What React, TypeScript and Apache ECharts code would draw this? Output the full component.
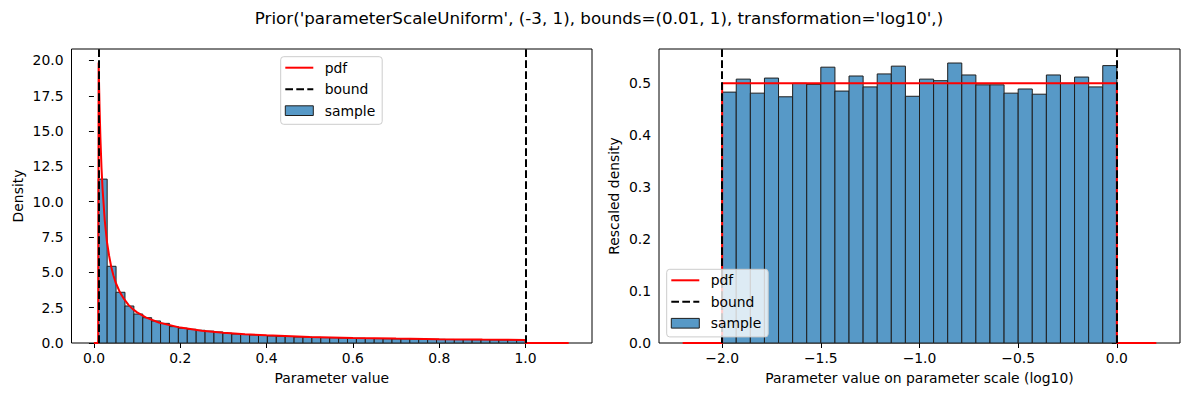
import React, { useEffect, useRef } from "react";
import * as echarts from "echarts";

const TITLE = "Prior('parameterScaleUniform', (-3, 1), bounds=(0.01, 1), transformation='log10',)";

// Left panel: linear parameter value
const linBounds = [0.01, 1];
const linDensity = [
  11.6, 5.43, 3.59, 2.62, 2.05, 1.79, 1.56, 1.39, 1.16, 1.05, 0.97, 0.9, 0.84, 0.78, 0.7, 0.64,
  0.6, 0.57, 0.53, 0.5, 0.47, 0.46, 0.43, 0.42, 0.4, 0.38, 0.37, 0.35, 0.34, 0.34, 0.32, 0.31,
  0.3, 0.29, 0.29, 0.28, 0.27, 0.26, 0.26, 0.25, 0.24, 0.24, 0.23, 0.23, 0.22, 0.22, 0.22, 0.21,
];
const linPdfX = [
  0, 0.0099, 0.0109, 0.012, 0.013, 0.015, 0.0175, 0.02, 0.025, 0.03, 0.035, 0.04, 0.045, 0.05,
  0.06, 0.07, 0.08, 0.09, 0.1, 0.12, 0.15, 0.2, 0.25, 0.3, 0.35, 0.4, 0.5, 0.6, 0.7, 0.8, 0.9, 1.0,
  1.0, 1.1,
];
const linPdfY = [
  0, 0, 19.86, 18.1, 16.7, 14.5, 12.4, 10.9, 8.7, 7.2, 6.2, 5.4, 4.8, 4.3, 3.6, 3.1, 2.7, 2.4,
  2.17, 1.81, 1.45, 1.09, 0.87, 0.72, 0.62, 0.54, 0.43, 0.36, 0.31, 0.27, 0.24, 0.22, 0, 0,
];
const linXTicks = [0, 0.2, 0.4, 0.6, 0.8, 1.0];
const linYTicks = [0, 2.5, 5, 7.5, 10, 12.5, 15, 17.5, 20];

// Right panel: log10 parameter scale
const logBounds = [-2, 0];
const logDensity = [
  0.483, 0.508, 0.481, 0.51, 0.474, 0.5, 0.498, 0.531, 0.485, 0.514, 0.493, 0.518, 0.533, 0.475,
  0.508, 0.505, 0.539, 0.516, 0.497, 0.497, 0.481, 0.489, 0.479, 0.516, 0.5, 0.512, 0.493, 0.534,
];
const logPdfX = [-2.2, -2.0, -2.0, 0.0, 0.0, 0.2];
const logPdfY = [0, 0, 0.5, 0.5, 0, 0];
const logXTicks = [-2, -1.5, -1, -0.5, 0];
const logYTicks = [0, 0.1, 0.2, 0.3, 0.4, 0.5];

const FONT = "DejaVu Sans";
const FS = 13.9;
const BAR_FILL = "#5799c7";
const BAR_EDGE = "#1e1e1e";
const DASH = [7.7, 3.3];
const TOP_Z = 100;

function histData(bounds: number[], dens: number[]) {
  const w = (bounds[1] - bounds[0]) / dens.length;
  return dens.map((h, i) => [bounds[0] + i * w, bounds[0] + (i + 1) * w, h]);
}

function renderBar(params: any, api: any) {
  const p0 = api.coord([api.value(0), api.value(2)]);
  const p1 = api.coord([api.value(1), 0]);
  return {
    type: "rect",
    shape: { x: p0[0], y: p0[1], width: p1[0] - p0[0], height: p1[1] - p0[1] },
    style: { fill: BAR_FILL, stroke: BAR_EDGE, lineWidth: 1 },
  };
}

const fmt1 = (v: number) => (v < -1e-9 ? "\u2212" : "") + Math.abs(v).toFixed(1);

function xAxis(gridIndex: number, min: number, max: number, ticks: number[], name: string) {
  return {
    type: "value",
    gridIndex,
    min,
    max,
    name,
    nameLocation: "middle",
    nameGap: 28,
    nameTextStyle: { fontFamily: FONT, fontSize: FS, color: "#000" },
    axisLine: { show: false },
    axisTick: { show: true, length: 5, inside: false, lineStyle: { color: "#000", width: 1 }, customValues: ticks },
    axisLabel: { show: true, margin: 8, fontFamily: FONT, fontSize: FS, color: "#000", formatter: fmt1, customValues: ticks },
    splitLine: { show: false },
  };
}

function yAxis(gridIndex: number, min: number, max: number, ticks: number[], name: string, gap: number) {
  return {
    type: "value",
    gridIndex,
    min,
    max,
    name,
    nameLocation: "middle",
    nameGap: gap,
    nameTextStyle: { fontFamily: FONT, fontSize: FS, color: "#000" },
    axisLine: { show: false },
    axisTick: { show: true, length: 5, inside: false, lineStyle: { color: "#000", width: 1 }, customValues: ticks },
    axisLabel: { show: true, margin: 8, fontFamily: FONT, fontSize: FS, color: "#000", formatter: fmt1, customValues: ticks },
    splitLine: { show: false },
  };
}

function legend(x: number, y: number) {
  // x, y: top-left of legend box
  const hx = x + 4.6;
  const tx = x + 44;
  const r1 = y + 11;
  const r2 = y + 32.5;
  const r3 = y + 54;
  const txt = (t: string, yy: number) => ({
    type: "text",
    z: TOP_Z + 1,
    x: tx,
    y: yy,
    style: { text: t, fontFamily: FONT, fontSize: FS, fill: "#000", align: "left", verticalAlign: "middle" },
  });
  return {
    type: "group",
    z: TOP_Z,
    children: [
      {
        type: "rect",
        z: TOP_Z,
        shape: { x, y, width: 101.5, height: 67.6, r: 3 },
        style: { fill: "rgba(255,255,255,0.8)", stroke: "#cccccc", lineWidth: 1 },
      },
      { type: "line", z: TOP_Z + 1, shape: { x1: hx, y1: r1, x2: hx + 28, y2: r1 }, style: { stroke: "#ff0000", lineWidth: 2 } },
      { type: "line", z: TOP_Z + 1, shape: { x1: hx, y1: r2, x2: hx + 28, y2: r2 }, style: { stroke: "#000", lineWidth: 2, lineDash: DASH } },
      { type: "rect", z: TOP_Z + 1, shape: { x: hx, y: r3 - 4.9, width: 28, height: 9.7 }, style: { fill: BAR_FILL, stroke: BAR_EDGE, lineWidth: 1 } },
      txt("pdf", r1),
      txt("bound", r2),
      txt("sample", r3),
    ],
  };
}

export default function App() {
  const ref = useRef<HTMLDivElement>(null);
  useEffect(() => {
    if (!ref.current) return;
    const chart = echarts.init(ref.current, null, { renderer: "svg" });
    const linPdf = linPdfX.map((x, i) => [x, linPdfY[i]]);
    const logPdf = logPdfX.map((x, i) => [x, logPdfY[i]]);
    const boundStyle = { color: "#000", width: 2, type: DASH };
    chart.setOption({
      animation: false,
      backgroundColor: "#fff",
      grid: [
        { left: 71.5, top: 49, width: 520.5, height: 294, show: true, borderColor: "#000", borderWidth: 1, containLabel: false },
        { left: 659, top: 49, width: 521, height: 294, show: true, borderColor: "#000", borderWidth: 1, containLabel: false },
      ],
      xAxis: [
        xAxis(0, -0.052, 1.154, linXTicks, "Parameter value"),
        xAxis(1, -2.32, 0.32, logXTicks, "Parameter value on parameter scale (log10)"),
      ],
      yAxis: [
        yAxis(0, 0, 20.81, linYTicks, "Density", 47),
        yAxis(1, 0, 0.566, logYTicks, "Rescaled density", 38),
      ],
      series: [
        {
          type: "custom",
          name: "sample",
          xAxisIndex: 0,
          yAxisIndex: 0,
          renderItem: renderBar,
          encode: { x: [0, 1], y: 2 },
          data: histData(linBounds, linDensity),
          z: 1,
        },
        {
          type: "line",
          name: "pdf",
          xAxisIndex: 0,
          yAxisIndex: 0,
          data: linPdf,
          showSymbol: false,
          symbol: "none",
          lineStyle: { color: "#ff0000", width: 2 },
          z: 2,
        },
        {
          type: "line",
          name: "bound",
          xAxisIndex: 0,
          yAxisIndex: 0,
          data: [],
          symbol: "none",
          z: 3,
          markLine: {
            silent: true,
            symbol: "none",
            label: { show: false },
            lineStyle: boundStyle,
            data: linBounds.map((b) => ({ xAxis: b })),
          },
        },
        {
          type: "custom",
          name: "sample",
          xAxisIndex: 1,
          yAxisIndex: 1,
          renderItem: renderBar,
          encode: { x: [0, 1], y: 2 },
          data: histData(logBounds, logDensity),
          z: 1,
        },
        {
          type: "line",
          name: "pdf",
          xAxisIndex: 1,
          yAxisIndex: 1,
          data: logPdf,
          symbol: "none",
          lineStyle: { color: "#ff0000", width: 2 },
          z: 2,
        },
        {
          type: "line",
          name: "bound",
          xAxisIndex: 1,
          yAxisIndex: 1,
          data: [],
          symbol: "none",
          z: 3,
          markLine: {
            silent: true,
            symbol: "none",
            label: { show: false },
            lineStyle: boundStyle,
            data: logBounds.map((b) => ({ xAxis: b })),
          },
        },
      ],
      graphic: [
        {
          type: "text",
          x: 599,
          y: 18,
          z: TOP_Z,
          style: { text: TITLE, fontFamily: FONT, fontSize: 16.7, fill: "#000", align: "center", verticalAlign: "middle" },
        },
        legend(280.7, 56.7),
        legend(666.7, 269.3),
      ],
    });
    return () => chart.dispose();
  }, []);
  return <div ref={ref} style={{ position: "fixed", left: 0, top: 0, width: 1189, height: 397 }} />;
}
